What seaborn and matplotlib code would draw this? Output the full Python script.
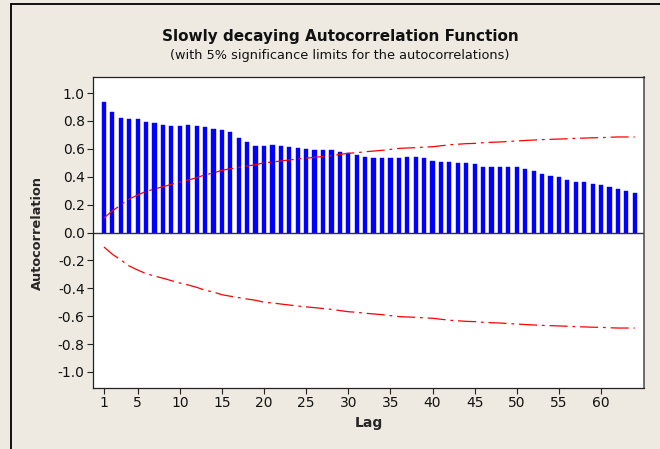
import matplotlib
matplotlib.use("Agg")
import matplotlib.pyplot as plt
from matplotlib.lines import Line2D
import numpy as np
import pandas as pd
import seaborn as sns

# Lags and sample autocorrelations
lags = list(range(1, 65))
acf = [0.938, 0.862, 0.819, 0.811, 0.811, 0.794, 0.787, 0.771, 0.763, 0.763,
       0.771, 0.763, 0.754, 0.744, 0.737, 0.718, 0.677, 0.647, 0.618, 0.618,
       0.627, 0.619, 0.612, 0.606, 0.596, 0.589, 0.589, 0.589, 0.579, 0.570,
       0.556, 0.539, 0.532, 0.532, 0.532, 0.532, 0.539, 0.539, 0.532, 0.515,
       0.508, 0.508, 0.498, 0.497, 0.489, 0.470, 0.470, 0.470, 0.470, 0.470,
       0.453, 0.439, 0.419, 0.403, 0.396, 0.379, 0.362, 0.362, 0.346, 0.338,
       0.328, 0.312, 0.297, 0.285]

# 5% significance limit (upper; lower is its mirror)
limit = [0.104, 0.156, 0.197, 0.240, 0.269, 0.295, 0.312, 0.328, 0.345, 0.362,
         0.376, 0.393, 0.414, 0.427, 0.446, 0.457, 0.467, 0.477, 0.486, 0.500,
         0.505, 0.513, 0.520, 0.527, 0.533, 0.539, 0.545, 0.551, 0.560, 0.568,
         0.572, 0.579, 0.584, 0.589, 0.596, 0.603, 0.606, 0.608, 0.612, 0.615,
         0.622, 0.629, 0.633, 0.637, 0.639, 0.644, 0.647, 0.649, 0.653, 0.656,
         0.660, 0.663, 0.666, 0.668, 0.670, 0.672, 0.675, 0.677, 0.679, 0.680,
         0.683, 0.685, 0.685, 0.685]

x_ticks = [1, 5, 10, 15, 20, 25, 30, 35, 40, 45, 50, 55, 60]
y_ticks = [-1.0, -0.8, -0.6, -0.4, -0.2, 0.0, 0.2, 0.4, 0.6, 0.8, 1.0]

title = "Slowly decaying Autocorrelation Function"
subtitle = "(with 5% significance limits for the autocorrelations)"

sns.set_style("white")
plt.rcParams["font.family"] = ["DejaVu Sans"]
plt.rcParams["axes.unicode_minus"] = False
plt.rcParams["lines.scale_dashes"] = False

bg = "#EEEAE1"
fig = plt.figure(figsize=(6.6, 4.49), dpi=100, facecolor=bg)
W, H = 660, 449
ax = fig.add_axes([93 / W, 1 - 388 / H, (644 - 93) / W, (388 - 77) / H])
ax.set_facecolor("white")

df = pd.DataFrame({"Lag": lags, "ACF": acf, "Upper": limit,
                   "Lower": [-v for v in limit]})

sns.barplot(data=df, x="Lag", y="ACF", native_scale=True, width=0.5,
            color="#0000FF", saturation=1, edgecolor="#0000FF", linewidth=0.3,
            ax=ax)
dash = (0, (13, 3.5, 2, 3.5))
sns.lineplot(data=df, x="Lag", y="Upper", color="#FF0000", linewidth=0.9,
             linestyle=dash, ax=ax)
sns.lineplot(data=df, x="Lag", y="Lower", color="#FF0000", linewidth=0.9,
             linestyle=dash, ax=ax)
ax.axhline(0, color="#333333", linewidth=1.0, zorder=1)

ax.set_xlim(-0.3, 65.1)
ax.set_ylim(-1.115, 1.115)
ax.set_xticks(x_ticks)
ax.set_xticklabels([str(t) for t in x_ticks])
ax.set_yticks(y_ticks)
ax.set_yticklabels([f"{t:.1f}" for t in y_ticks])
ax.tick_params(axis="both", direction="out", length=4, width=0.8,
               color="#222222", labelsize=10, pad=2, labelcolor="#111111")
ax.tick_params(axis="y", left=True)
ax.tick_params(axis="x", bottom=True)
for side, sp in ax.spines.items():
    sp.set_visible(True)
    sp.set_color("#222222")
    sp.set_linewidth(0.9)
ax.spines["right"].set_color("#555555")
ax.spines["right"].set_linewidth(1.2)

ax.set_xlabel("Lag", fontsize=10, fontweight="bold", labelpad=4)
ax.set_ylabel("Autocorrelation", fontsize=9.3, fontweight="bold", labelpad=10)

fig.text(0.516, 1 - 37 / H, title, ha="center", va="center",
         fontsize=11, fontweight="bold", color="#111111")
fig.text(0.5155, 1 - 55 / H, subtitle, ha="center", va="center",
         fontsize=9.3, color="#111111")

# outer frame
fig.add_artist(Line2D([11 / W, 11 / W], [0, 1 - 4 / H], color="black",
                      linewidth=1.3, transform=fig.transFigure))
fig.add_artist(Line2D([11 / W, 1], [1 - 4 / H, 1 - 4 / H], color="black",
                      linewidth=1.3, transform=fig.transFigure))

fig.savefig("out.png", dpi=100, facecolor=bg)
